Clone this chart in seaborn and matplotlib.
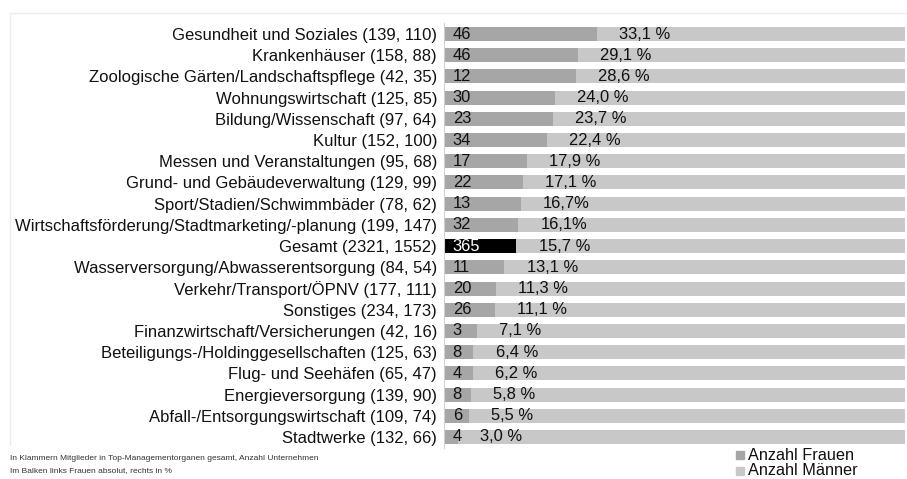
import matplotlib
matplotlib.use("Agg")
import matplotlib.pyplot as plt
import seaborn as sns
import pandas as pd
from matplotlib.lines import Line2D

# Branchen mit (Mitglieder gesamt, Anzahl Unternehmen)
branchen = [
    "Gesundheit und Soziales (139, 110)",
    "Krankenhäuser (158, 88)",
    "Zoologische Gärten/Landschaftspflege (42, 35)",
    "Wohnungswirtschaft (125, 85)",
    "Bildung/Wissenschaft (97, 64)",
    "Kultur (152, 100)",
    "Messen und Veranstaltungen (95, 68)",
    "Grund- und Gebäudeverwaltung (129, 99)",
    "Sport/Stadien/Schwimmbäder (78, 62)",
    "Wirtschaftsförderung/Stadtmarketing/-planung (199, 147)",
    "Gesamt (2321, 1552)",
    "Wasserversorgung/Abwasserentsorgung (84, 54)",
    "Verkehr/Transport/ÖPNV (177, 111)",
    "Sonstiges (234, 173)",
    "Finanzwirtschaft/Versicherungen (42, 16)",
    "Beteiligungs-/Holdinggesellschaften (125, 63)",
    "Flug- und Seehäfen (65, 47)",
    "Energieversorgung (139, 90)",
    "Abfall-/Entsorgungswirtschaft (109, 74)",
    "Stadtwerke (132, 66)",
]
frauen = [46, 46, 12, 30, 23, 34, 17, 22, 13, 32, 365, 11, 20, 26, 3, 8, 4, 8, 6, 4]
anteil = [33.1, 29.1, 28.6, 24.0, 23.7, 22.4, 17.9, 17.1, 16.7, 16.1, 15.7,
          13.1, 11.3, 11.1, 7.1, 6.4, 6.2, 5.8, 5.5, 3.0]
anteil_text = ["33,1 %", "29,1 %", "28,6 %", "24,0 %", "23,7 %", "22,4 %",
               "17,9 %", "17,1 %", "16,7%", "16,1%", "15,7 %", "13,1 %",
               "11,3 %", "11,1 %", "7,1 %", "6,4 %", "6,2 %", "5,8 %",
               "5,5 %", "3,0 %"]

FRAUEN_GRAU = "#a6a6a6"
MAENNER_GRAU = "#c8c8c8"

df = pd.DataFrame({"branche": branchen, "frauen": frauen, "anteil": anteil})
df["gesamt"] = 100.0

sns.set_style("white")
plt.rcParams["font.family"] = ["Liberation Sans", "DejaVu Sans"]

fig = plt.figure(figsize=(9.07, 4.79), dpi=100)
ax = fig.add_axes([0.4895, 0.0656, 0.5085, 0.8855])

# Hintergrundbalken (Männer, 100 %)
sns.barplot(data=df, x="gesamt", y="branche", color=MAENNER_GRAU,
            width=0.66, orient="h", linewidth=0, ax=ax)
# Frauenanteil, Gesamt schwarz hervorgehoben
farben = ["black" if b.startswith("Gesamt") else FRAUEN_GRAU for b in branchen]
sns.barplot(data=df, x="anteil", y="branche", hue="branche", palette=farben,
            width=0.66, orient="h", legend=False, linewidth=0, ax=ax)

for i, (n, p, t) in enumerate(zip(frauen, anteil, anteil_text)):
    gesamt = branchen[i].startswith("Gesamt")
    ax.text(1.9, i, str(n), va="center", ha="left", fontsize=11.9,
            color="white" if gesamt else "#111111")
    ax.text(p + 4.8, i, t, va="center", ha="left", fontsize=11.9,
            color="#111111")

ax.set_xlim(0, 100)
ax.set_ylim(19.5, -0.5)
ax.set_xlabel("")
ax.set_ylabel("")
ax.set_xticks([])
ax.tick_params(axis="y", length=0, pad=5, labelsize=12, labelcolor="#111111")
for s in ["top", "right", "bottom"]:
    ax.spines[s].set_visible(False)
ax.spines["left"].set_color("#d0d0d0")
ax.spines["left"].set_linewidth(0.8)

# feiner Rahmen oben/links
fig.add_artist(Line2D([10 / 907, 1], [1 - 13 / 479] * 2, color="#ececec", lw=1))
fig.add_artist(Line2D([10 / 907] * 2, [1 - 13 / 479, 1 - 445 / 479], color="#ececec", lw=1))

fuss = dict(fontsize=6.0, va="center", ha="left", color="#333333")
fig.text(10 / 907, 1 - 458 / 479,
         "In Klammern Mitglieder in Top-Managementorganen gesamt, Anzahl Unternehmen", **fuss)
fig.text(10 / 907, 1 - 471 / 479, "Im Balken links Frauen absolut, rechts in %", **fuss)

# Legende unten rechts
for k, (farbe, label) in enumerate([(FRAUEN_GRAU, "Anzahl Frauen"),
                                    (MAENNER_GRAU, "Anzahl Männer")]):
    y = 1 - (455 + 15.5 * k) / 479
    fig.add_artist(Line2D([740 / 907], [y], marker="s", markersize=5.5,
                          color=farbe, linestyle="none"))
    fig.text(748 / 907, y, label, fontsize=11.7, va="center", ha="left",
             color="#111111")

fig.savefig("out.png", dpi=100)
